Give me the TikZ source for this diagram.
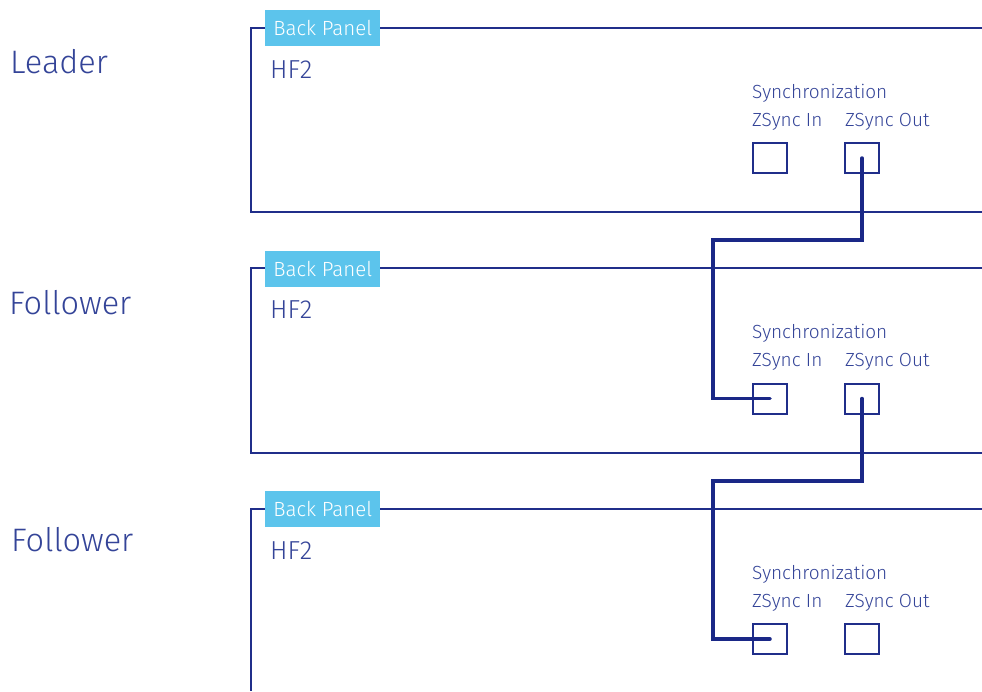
\documentclass[tikz,border=0pt]{standalone}
\usepackage{fontspec}
\setmainfont{Fira Sans}[UprightFont=* Light]
\begin{document}
\begin{tikzpicture}[x=1pt,y=-1pt,
  frame/.style={draw=lineblue, line width=1.7pt},
  tag/.style={fill=tagblue, text=white, minimum width=115pt, minimum height=36pt, inner sep=0pt, anchor=north west, font=\fontsize{20.5}{20.5}\selectfont},
  role/.style={text=textblue, anchor=base west, inner sep=0pt, font=\fontsize{32.5}{32.5}\selectfont},
  model/.style={text=textblue, anchor=base west, inner sep=0pt, font=\fontsize{26}{26}\selectfont},
  small/.style={text=textblue, anchor=base west, inner sep=0pt, font=\fontsize{19}{19}\selectfont},
  port/.style={draw=lineblue, line width=2pt, minimum width=34pt, minimum height=30pt, inner sep=0pt, anchor=north west},
  cable/.style={draw=cableblue, line width=3.5pt, line cap=round}]
\definecolor{lineblue}{RGB}{32,46,138}
\definecolor{cableblue}{RGB}{26,40,135}
\definecolor{textblue}{RGB}{52,68,152}
\definecolor{tagblue}{RGB}{92,196,236}
\useasboundingbox (0,0) rectangle (982,691);
% frames
\draw[frame] (982,28) -- (251,28) -- (251,212) -- (982,212);
\draw[frame] (982,268) -- (251,268) -- (251,453) -- (982,453);
\draw[frame] (982,509) -- (251,509) -- (251,691);
% role labels
\node[role] (r1) at (10,73) {Leader};
\node[role] (r2) at (9,314) {Follower};
\node[role] (r3) at (11,551) {Follower};
\foreach \i/\o in {1/0,2/240.5,3/481}{
  \node[tag] (tag\i) at (265,10+\o) {Back Panel};
  \node[model] (hf\i) at (270,78+\o) {HF2};
  \node[small] (sync\i) at (752,98+\o) {Synchronization};
  \node[small] (inl\i) at (752,126+\o) {ZSync In};
  \node[small] (outl\i) at (845,126+\o) {ZSync Out};
  \node[port] (in\i) at (752,142+\o) {};
  \node[port] (out\i) at (844,142+\o) {};
}
% cables
\draw[cable] (out1.center) |- (713,240) |- (in2.center);
\draw[cable] (out2.center) |- (713,481) |- (in3.center);
\end{tikzpicture}
\end{document}
